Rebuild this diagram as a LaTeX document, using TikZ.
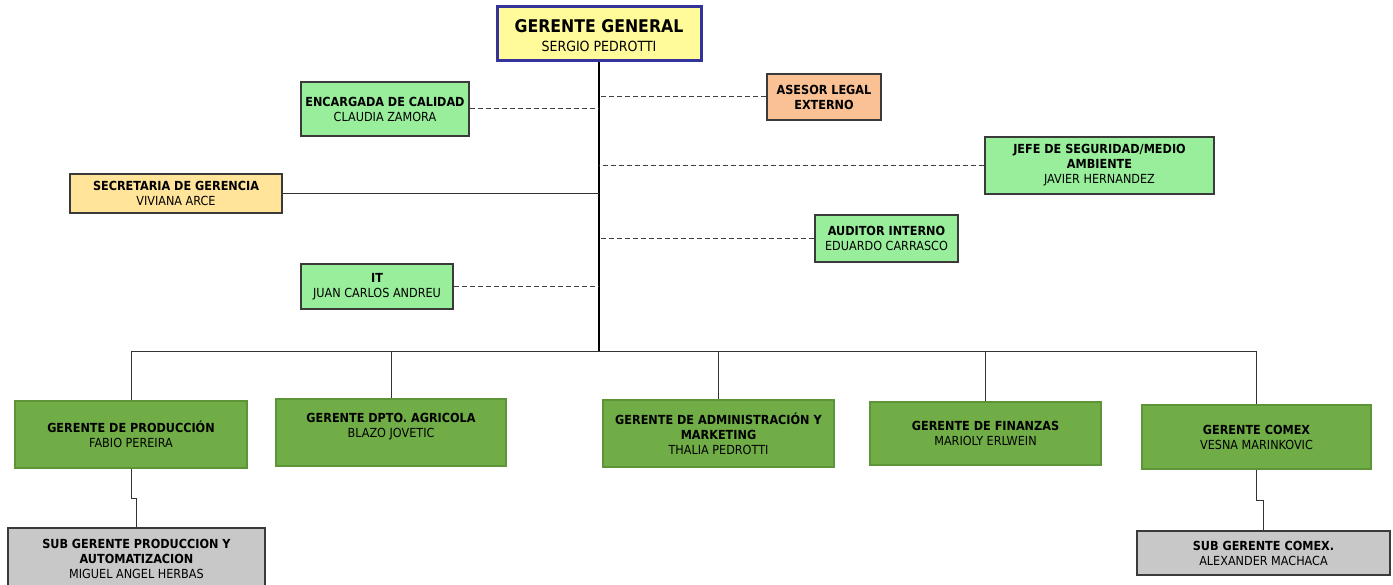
\documentclass[tikz,border=0pt]{standalone}
\usepackage{fontspec}
\setmainfont{DejaVu Sans Condensed}
\definecolor{ggfill}{HTML}{FFFA9A}
\definecolor{ggdraw}{HTML}{33339A}
\definecolor{lgreen}{HTML}{98EE9B}
\definecolor{orangef}{HTML}{FAC294}
\definecolor{secf}{HTML}{FFE49A}
\definecolor{dgreen}{HTML}{70AD47}
\definecolor{dgreenb}{HTML}{5E9438}
\definecolor{grayf}{HTML}{C8C8C8}
\definecolor{boxb}{HTML}{3A3A3A}
\tikzset{
  x=1pt, y=-1pt,
  box/.style={rectangle, inner sep=0pt, align=center, text=black,
    font=\fontsize{12.5}{15}\selectfont},
  staffbox/.style={box, draw=boxb, line width=2pt, fill=lgreen},
  mgrbox/.style={box, draw=dgreenb, line width=1.3pt, fill=dgreen},
  subbox/.style={box, draw=boxb, line width=2.2pt, fill=grayf},
  dashline/.style={draw=black!75, line width=1pt, dash pattern=on 5pt off 3pt},
  solidline/.style={draw=black!80, line width=1pt},
  trunk/.style={draw=black, line width=1.8pt}
}
\newcommand{\tit}[1]{\textbf{#1}}
\begin{document}
\begin{tikzpicture}
\useasboundingbox (0,0) rectangle (1393,585);
\clip (0,0) rectangle (1393,585);
% top
\node[box, draw=ggdraw, line width=3pt, fill=ggfill, minimum width=204pt, minimum height=54pt,
  font=\fontsize{14}{18.5}\selectfont] (gg) at (599,34)
  {\raisebox{-4.5pt}[\height][\depth]{\begin{tabular}{@{}c@{}}{\fontsize{17.5}{19}\selectfont\bfseries GERENTE GENERAL}\\SERGIO PEDROTTI\end{tabular}}};
% staff
\node[staffbox, minimum width=168pt, minimum height=54pt] (cal) at (385,109)
  {\tit{ENCARGADA DE CALIDAD}\\CLAUDIA ZAMORA};
\node[staffbox, fill=orangef, minimum width=114pt, minimum height=46pt] (leg) at (824,97)
  {\tit{ASESOR LEGAL}\\\tit{EXTERNO}};
\node[staffbox, minimum width=229pt, minimum height=57pt] (seg) at (1099.5,165.5)
  {\tit{JEFE DE SEGURIDAD/MEDIO}\\\tit{AMBIENTE}\\JAVIER HERNANDEZ};
\node[staffbox, fill=secf, minimum width=212pt, minimum height=39pt] (sec) at (176,193.5)
  {\tit{SECRETARIA DE GERENCIA}\\VIVIANA ARCE};
\node[staffbox, minimum width=143pt, minimum height=47pt] (aud) at (886.5,238.5)
  {\tit{AUDITOR INTERNO}\\EDUARDO CARRASCO};
\node[staffbox, minimum width=152pt, minimum height=45pt] (it) at (377,286.5)
  {\tit{IT}\\JUAN CARLOS ANDREU};
% managers
\node[mgrbox, minimum width=232pt, minimum height=67pt] (gp) at (131,434.5)
  {\tit{GERENTE DE PRODUCCIÓN}\\FABIO PEREIRA};
\node[mgrbox, minimum width=230pt, minimum height=67pt] (agr) at (391,432.5)
  {\raisebox{6pt}[\height][\depth]{\begin{tabular}{@{}c@{}}\tit{GERENTE DPTO. AGRICOLA}\\BLAZO JOVETIC\end{tabular}}};
\node[mgrbox, minimum width=231pt, minimum height=67pt] (adm) at (718.5,433.5)
  {\tit{GERENTE DE ADMINISTRACIÓN Y}\\\tit{MARKETING}\\THALIA PEDROTTI};
\node[mgrbox, minimum width=231pt, minimum height=63pt] (fin) at (985.5,433.5)
  {\tit{GERENTE DE FINANZAS}\\MARIOLY ERLWEIN};
\node[mgrbox, minimum width=229pt, minimum height=64pt] (cmx) at (1256.5,437)
  {\tit{GERENTE COMEX}\\VESNA MARINKOVIC};
% subs
\node[subbox, minimum width=257pt, minimum height=64pt] (sgp) at (136.5,560)
  {\raisebox{1pt}{\begin{tabular}{@{}c@{}}\tit{SUB GERENTE PRODUCCION Y}\\\tit{AUTOMATIZACION}\\MIGUEL ANGEL HERBAS\end{tabular}}};
\node[subbox, minimum width=253pt, minimum height=44pt] (scx) at (1263.5,553)
  {\tit{SUB GERENTE COMEX.}\\ALEXANDER MACHACA};
% connectors
\coordinate (bus) at (599,352);
\draw[trunk] (gg.south) -- (bus);
\draw[dashline] (cal.east) -- (cal.east -| gg.south);
\draw[dashline] (leg.west) -- (leg.west -| gg.south);
\draw[dashline] (seg.west) -- (seg.west -| gg.south);
\draw[dashline] (aud.west) -- (aud.west -| gg.south);
\draw[dashline] (it.east) -- (it.east -| gg.south);
\draw[solidline] (sec.east) -- (sec.east -| gg.south);
\draw[solidline] (bus) -| (gp.north);
\draw[solidline] (bus) -| (agr.north);
\draw[solidline] (bus) -| (adm.north);
\draw[solidline] (bus) -| (fin.north);
\draw[solidline] (bus) -| (cmx.north);
\draw[solidline] (gp.south) -- ++(0,30) -| (sgp.north);
\draw[solidline] (cmx.south) -- ++(0,31) -| (scx.north);
\end{tikzpicture}
\end{document}
